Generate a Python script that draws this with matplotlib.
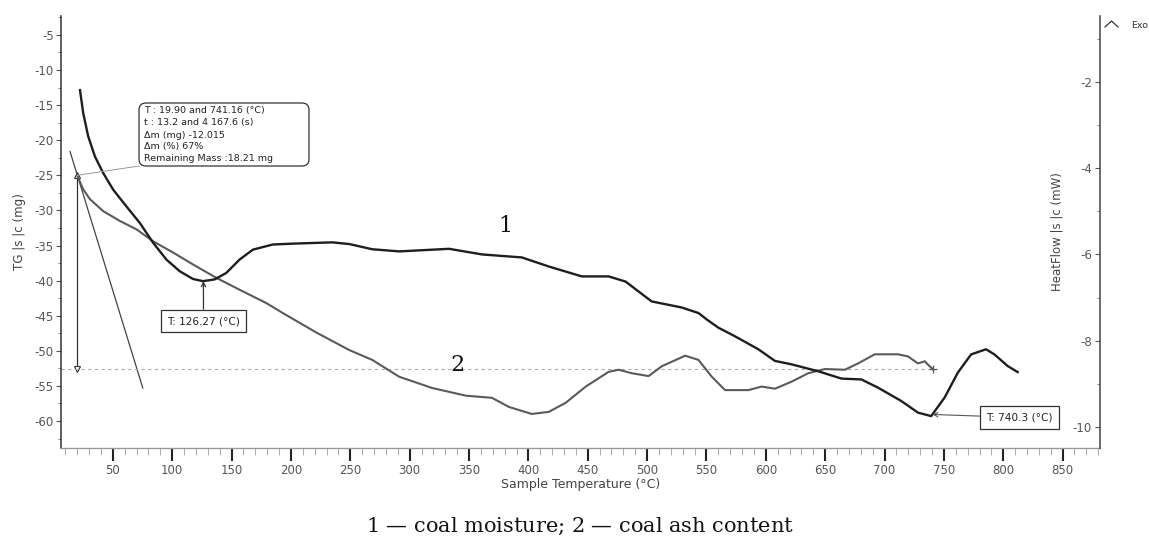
import numpy as np
import matplotlib
matplotlib.use('Agg')
import matplotlib.pyplot as plt
from matplotlib.lines import Line2D
from matplotlib.patches import FancyBboxPatch
from matplotlib.ticker import MultipleLocator

plt.rcParams['font.family'] = ['DejaVu Sans']
plt.rcParams['axes.unicode_minus'] = False
plt.rcParams['mathtext.fontset'] = 'dejavuserif'

# curve 1 - heat flow (mW), right axis
temp_1 = [22.3, 25.0, 29.2, 34.9, 41.8, 50.3, 61.5, 72.7, 83.9, 95.1, 106.3, 117.5,
          125.9, 135.7, 145.5, 156.7, 167.9, 184.7, 201.5, 223.9, 234.9, 249.2, 268.5,
          291.2, 333.2, 360.9, 394.5, 417.2, 445.0, 467.6, 481.9, 503.8, 529.0, 543.3,
          550.3, 560.1, 574.1, 593.7, 607.7, 621.7, 632.9, 644.1, 663.7, 680.5, 694.5,
          714.1, 728.2, 739.3, 750.6, 761.8, 772.9, 785.5, 792.6, 803.8, 812.2]
heat_1 = [-2.19, -2.72, -3.26, -3.73, -4.11, -4.50, -4.89, -5.27, -5.73, -6.12, -6.39, -6.57,
          -6.62, -6.58, -6.43, -6.12, -5.89, -5.77, -5.75, -5.73, -5.72, -5.76, -5.88,
          -5.93, -5.87, -6.00, -6.07, -6.28, -6.51, -6.51, -6.63, -7.09, -7.23, -7.36,
          -7.51, -7.70, -7.90, -8.20, -8.47, -8.55, -8.63, -8.71, -8.88, -8.90, -9.09,
          -9.40, -9.67, -9.75, -9.32, -8.74, -8.32, -8.20, -8.32, -8.59, -8.73]

# curve 2 - TG (mg), left axis
temp_2 = [19.9, 25.0, 30.7, 41.8, 55.9, 69.9, 83.9, 100.7, 117.5, 137.1, 156.7, 179.2,
          192.9, 221.4, 249.2, 268.5, 291.2, 318.9, 347.5, 369.3, 383.6, 402.9, 417.2,
          431.5, 448.3, 467.6, 476.1, 487.2, 501.3, 512.4, 532.1, 543.3, 554.5, 565.7,
          585.3, 596.5, 607.7, 621.7, 635.7, 649.7, 666.6, 677.7, 691.8, 711.4, 719.7,
          728.2, 733.8, 738.0, 741.2]
tg_2 = [-25.0, -27.0, -28.4, -30.1, -31.5, -32.7, -34.4, -36.0, -37.7, -39.6, -41.3, -43.2,
        -44.6, -47.4, -49.9, -51.3, -53.7, -55.3, -56.4, -56.7, -58.0, -59.0, -58.7,
        -57.4, -55.1, -53.0, -52.7, -53.2, -53.6, -52.2, -50.7, -51.3, -53.7, -55.6,
        -55.6, -55.1, -55.4, -54.4, -53.2, -52.6, -52.7, -51.8, -50.5, -50.5, -50.8,
        -51.8, -51.5, -52.2, -52.7]

# mass loss step
t_start, t_end = 19.90, 741.16
tg_start, tg_remaining = -25.0, -52.6
tangent_t = [13.9, 75.2]
tangent_tg = [-21.6, -55.3]

# peak markers
t_peak1 = 126.27
t_peak2 = 740.3

box_lines = ['T : 19.90 and 741.16 (°C)',
             't : 13.2 and 4 167.6 (s)',
             'Δm (mg) -12.015',
             'Δm (%) 67%',
             'Remaining Mass :18.21 mg']

x_major = np.arange(50, 851, 50)
tg_ticks = np.arange(-60, -4, 5)
hf_ticks = np.arange(-10, -1, 2)

fig = plt.figure(figsize=(11.49, 5.47), dpi=100)
ax = fig.add_axes([61 / 1149, 99 / 547, 1039 / 1149, 432 / 547])
ax2 = ax.twinx()

ax.set_xlim(6.3, 881.5)
ax.set_ylim(-63.85, -2.3)
ax2.set_ylim(-10.49, -0.47)

# curves
ax.plot(temp_2, tg_2, color='#5a5a5a', lw=1.5, zorder=3, solid_joinstyle='round')
ax2.plot(temp_1, heat_1, color='#1e1e1e', lw=1.7, zorder=3, solid_joinstyle='round')

# tangent, mass step arrow, remaining mass level
ax.plot(tangent_t, tangent_tg, color='#444444', lw=0.9)
ax.plot([t_start, t_start], [tg_start, tg_remaining], color='#333333', lw=0.9)
ax.plot(t_start, tg_start, marker='^', ms=5, mfc='white', mec='#333333', mew=0.8)
ax.plot(t_start, tg_remaining, marker='v', ms=5, mfc='white', mec='#333333', mew=0.8)
ax.plot([ax.get_xlim()[0], t_end], [tg_remaining, tg_remaining],
        ls=(0, (3, 3)), color='#aaaaaa', lw=0.8)
ax.plot(t_end, tg_remaining, marker='+', ms=6, color='#555555', mew=0.9)

# spines
for s in ['top', 'right']:
    ax.spines[s].set_visible(False)
for s in ['top', 'left', 'bottom']:
    ax2.spines[s].set_visible(False)
ax.spines['left'].set_color('#333333')
ax.spines['left'].set_linewidth(1.1)
ax.spines['bottom'].set_color('#999999')
ax.spines['bottom'].set_linewidth(1.0)
ax2.spines['right'].set_color('#444444')
ax2.spines['right'].set_linewidth(1.1)

# x ticks
ax.set_xticks(x_major)
ax.xaxis.set_minor_locator(MultipleLocator(10))
ax.tick_params(axis='x', which='major', direction='out', length=9.5, width=1.5,
               color='#222222', labelsize=8.5, labelcolor='#555555', pad=2)
ax.tick_params(axis='x', which='minor', direction='out', length=5, width=0.7,
               color='#aaaaaa')

# left y ticks
ax.set_yticks(tg_ticks)
ax.yaxis.set_minor_locator(MultipleLocator(2.5))
ax.tick_params(axis='y', which='major', direction='out', length=3.6, width=0.8,
               color='#555555', labelsize=8.5, labelcolor='#555555', pad=1.5)
ax.tick_params(axis='y', which='minor', direction='out', length=2.2, width=0.7,
               color='#888888')

# right y ticks, labels inside the frame
ax2.set_yticks(hf_ticks)
ax2.yaxis.set_minor_locator(MultipleLocator(1))
ax2.tick_params(axis='y', which='major', direction='in', length=3.6, width=0.8,
                color='#555555', labelsize=8.5, labelcolor='#555555', pad=-5.8)
ax2.tick_params(axis='y', which='minor', direction='in', length=2.2, width=0.7,
                color='#888888')
plt.setp(ax2.get_yticklabels(), ha='right')

# axis labels
ax.set_xlabel('Sample Temperature (°C)', fontsize=9, color='#444444')
ax.xaxis.set_label_coords(0.5, -0.0856)
ax.xaxis.label.set_va('center')
ax.set_ylabel('TG |s |c (mg)', fontsize=8.6, color='#444444')
ax.yaxis.set_label_coords(-0.0395, 0.5)
ax.yaxis.label.set_va('center')
ax2.text(0.9586, 0.5, 'HeatFlow |s |c (mW)', transform=ax2.transAxes, rotation=90,
         ha='center', va='center', fontsize=8.5, color='#444444')

inch = fig.dpi_scale_trans

# main info box
ax2.add_patch(FancyBboxPatch((1.39, 3.81), 1.70, 0.63,
                             boxstyle='round,pad=0,rounding_size=0.07',
                             transform=inch, fc='white', ec='#333333', lw=0.9,
                             clip_on=False, zorder=5))
for i, line in enumerate(box_lines):
    ax2.text(1.44, 4.36 - 0.12 * i, line, transform=inch, ha='left', va='center',
             fontsize=6.8, color='#222222', zorder=6)
ax2.annotate('', xy=(t_start, tg_start), xycoords=ax.transData,
             xytext=(1.39, 3.81), textcoords=inch,
             arrowprops=dict(arrowstyle='-', color='#999999', lw=0.7,
                             shrinkA=0, shrinkB=0))

# peak boxes
box_kw = dict(boxstyle='square,pad=0.6', fc='white', ec='#333333', lw=0.9)
ax2.annotate('T: %.2f (°C)' % t_peak1, xy=(t_peak1, np.interp(t_peak1, temp_1, heat_1)),
             xytext=(2.035, 2.26), textcoords=inch, ha='center', va='center',
             fontsize=7.6, color='#222222', bbox=box_kw,
             arrowprops=dict(arrowstyle='->', color='#333333', lw=0.9,
                             shrinkA=0, shrinkB=0), zorder=6)
ax2.annotate('T: %.1f (°C)' % t_peak2, xy=(t_peak2, np.interp(t_peak2, temp_1, heat_1)),
             xytext=(10.195, 1.295), textcoords=inch, ha='center', va='center',
             fontsize=7.6, color='#222222', bbox=box_kw,
             arrowprops=dict(arrowstyle='->', color='#555555', lw=0.8,
                             shrinkA=0, shrinkB=0), zorder=6)

# curve numbers
ax2.text(5.05, 3.21, '1', transform=inch, ha='center', va='center',
         fontsize=16, family='DejaVu Serif', color='#111111')
ax2.text(4.57, 1.82, '2', transform=inch, ha='center', va='center',
         fontsize=16, family='DejaVu Serif', color='#111111')

# Exo marker
fig.add_artist(Line2D([11.05, 11.115, 11.18], [5.20, 5.26, 5.20], transform=inch,
                      color='#333333', lw=0.9))
fig.text(11.31, 5.21, 'Exo', transform=inch, ha='left', va='center',
         fontsize=6.8, color='#333333')

# caption
fig.text(5.80, 0.15, r'$\mathit{1}$ — coal moisture; $\mathit{2}$ — coal ash content',
         transform=inch, ha='center', va='baseline', fontsize=15,
         family='DejaVu Serif', color='#111111')

fig.savefig('out.png', dpi=100)
